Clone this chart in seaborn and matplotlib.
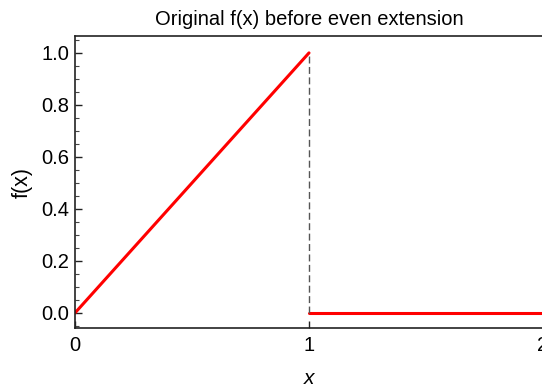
import matplotlib
matplotlib.use("Agg")
import matplotlib.pyplot as plt
import numpy as np
import pandas as pd
import seaborn as sns
from matplotlib.ticker import MultipleLocator

# piecewise f(x): ramp on [0, 1], zero on [1, 2]
ramp_x = [0.0, 1.0]
ramp_y = [0.0, 1.0]
flat_x = [1.0, 2.0]
flat_y = [0.0, 0.0]
jump_x = [1.0, 1.0]
jump_y = [0.0, 1.0]

x_ticks = [0, 1, 2]
y_ticks = [0.0, 0.2, 0.4, 0.6, 0.8, 1.0]

sns.set_style("ticks")
plt.rcParams["font.family"] = ["Liberation Sans", "DejaVu Sans"]
plt.rcParams["text.color"] = "black"
plt.rcParams["axes.labelcolor"] = "black"

fig = plt.figure(figsize=(5.42, 3.87), dpi=100)
ax = fig.add_axes([75 / 542, 1 - 328 / 387, 468 / 542, 292 / 387])

ramp = pd.DataFrame({"x": ramp_x, "y": ramp_y})
flat = pd.DataFrame({"x": flat_x, "y": flat_y})
sns.lineplot(data=ramp, x="x", y="y", ax=ax, color="red", linewidth=2.2)
sns.lineplot(data=flat, x="x", y="y", ax=ax, color="red", linewidth=2.2)
ax.plot(jump_x, jump_y, color="#555555", linestyle=(0, (5, 2.5)), linewidth=1.0)

ax.set_xlim(0, 2)
ax.set_ylim(-0.058, 1.065)
ax.set_xticks(x_ticks)
ax.set_yticks(y_ticks)
ax.set_xticklabels([str(t) for t in x_ticks])
ax.set_yticklabels([f"{t:.1f}" for t in y_ticks])
ax.yaxis.set_minor_locator(MultipleLocator(0.05))

ax.tick_params(axis="both", which="major", direction="in", length=5, width=1,
               labelsize=14.5, pad=4, colors="#222222", labelcolor="black")
ax.tick_params(axis="x", which="major", pad=6)
ax.tick_params(axis="y", which="minor", direction="in", length=3, width=0.8,
               colors="#444444")
for side in ["top", "left", "bottom"]:
    ax.spines[side].set_visible(True)
    ax.spines[side].set_linewidth(1.2)
    ax.spines[side].set_color("#222222")
ax.spines["right"].set_visible(False)

ax.set_title("Original f(x) before even extension", fontsize=14.5, pad=8, color="black")
ax.set_xlabel("x", fontsize=15, style="italic", labelpad=10)
ax.set_ylabel("f(x)", fontsize=15.5, labelpad=6)

fig.savefig("out.png", dpi=100)
